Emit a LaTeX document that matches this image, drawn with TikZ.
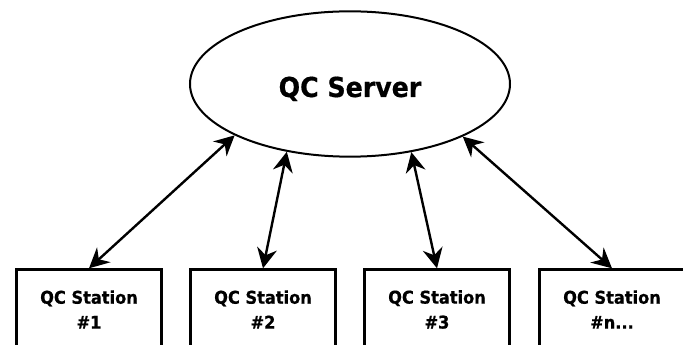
\documentclass[tikz,border=0pt]{standalone}
\usepackage{fontspec}
\setmainfont{DejaVu Sans}[FakeStretch=0.92,BoldFeatures={FakeBold=0.6}]
\usetikzlibrary{shapes.geometric,arrows.meta}
\tikzset{
  server/.style={ellipse,draw=black,line width=1.5pt,minimum width=240pt,minimum height=109pt,inner sep=0pt,text height=19.5pt,text depth=0pt,font=\fontsize{20.6}{24}\selectfont\bfseries,text=black},
  station/.style={rectangle,draw=black,line width=1.8pt,minimum width=108.5pt,minimum height=60pt,inner sep=0pt,align=center,font=\fontsize{13.2}{18.7}\selectfont\bfseries,text=black},
  link/.style={line width=1.8pt,{Stealth[length=15pt,width=15pt,inset=5pt]}-{Stealth[length=15pt,width=15pt,inset=5pt]}}
}
\begin{document}
\begin{tikzpicture}[x=0.75pt,y=-0.75pt]
\useasboundingbox (0,0) rectangle (683,345);
\clip (0,0) rectangle (683,345);
\node[server] (srv) at (350,84) {QC Server};
\node[station] (s1) at (89,309.5) {QC Station\\\#1};
\node[station] (s2) at (263,309.5) {QC Station\\\#2};
\node[station] (s3) at (437,309.5) {QC Station\\\#3};
\node[station] (s4) at (612,309.5) {QC Station\\\#n...};
\draw[link] (srv.204.9) -- (s1.north);
\draw[link] (srv.227.6) -- (s2.north);
\draw[link] (srv.312) -- (s3.north);
\draw[link] (srv.335.5) -- (s4.north);
\end{tikzpicture}
\end{document}
